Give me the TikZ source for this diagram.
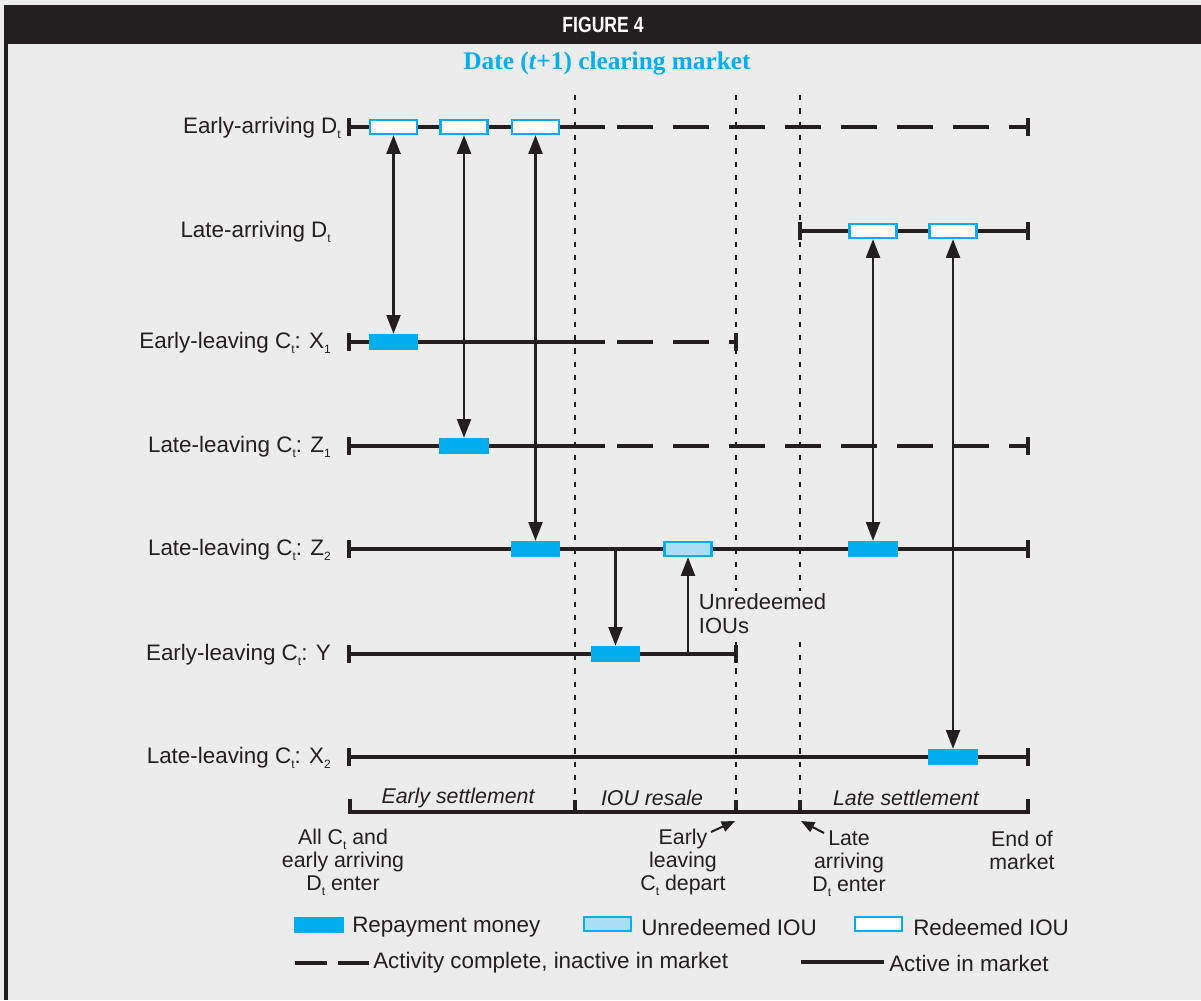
\documentclass[tikz,border=0pt]{standalone}
\usepackage{fontspec}
\setmainfont{Liberation Sans}
\newfontfamily\serifbf{Liberation Serif}
\usetikzlibrary{arrows.meta}
\definecolor{bg}{HTML}{ECECEC}
\definecolor{ink}{HTML}{231F20}
\definecolor{cy}{HTML}{00AEEF}
\definecolor{lcy}{HTML}{A9DEF7}
\newcommand\lsub[1]{\raisebox{-0.45ex}{\fontsize{9}{9}\selectfont #1}}
\begin{document}
\begin{tikzpicture}[x=0.75pt,y=-0.75pt,
  every node/.style={font=\fontsize{16}{19}\selectfont, text=ink, inner sep=0pt},
  lbl/.style={anchor=east, font=\fontsize{16.8}{20}\selectfont},
  money/.style={fill=cy, minimum width=37pt, minimum height=12pt},
  unred/.style={fill=lcy, draw=cy, line width=1.8pt, minimum width=35pt, minimum height=10.5pt},
  redm/.style={fill=white, draw=cy, line width=1.8pt, minimum width=35pt, minimum height=10.5pt},
  act/.style={draw=ink, line width=2.4pt},
  inact/.style={draw=ink, line width=2.4pt, dash pattern=on 27pt off 15pt},
  endtick/.style={draw=ink, line width=2.6pt},
  sep/.style={draw=ink, line width=1pt, dash pattern=on 4pt off 6pt},
  link/.style={draw=ink, line width=1.6pt, arrows={Triangle[length=14pt,width=10.5pt]-Triangle[length=14pt,width=10.5pt]}},
  onelink/.style={draw=ink, line width=1.6pt, arrows={-Triangle[length=14pt,width=10.5pt]}},
  pointer/.style={draw=ink, line width=1.5pt, arrows={-Triangle[length=10pt,width=8pt]}},
  lgtext/.style={anchor=west, font=\fontsize{16.8}{19}\selectfont},
  bottom/.style={align=center, font=\fontsize{16}{17.3}\selectfont}
]
\useasboundingbox (0,0) rectangle (1201,1000);
\fill[bg] (0,0) rectangle (1201,1000);
\fill[ink] (4,5) rectangle (1201,44);
\fill[ink] (4,44) rectangle (7.5,1000);
\node[text=white, font=\fontsize{15}{17}\selectfont\bfseries] (fig) at (603,25) {\scalebox{0.88}[1.1]{FIGURE 4}};
\node[text=cy, font=\fontsize{19}{22}\serifbf\bfseries] (sub) at (607,64) {Date (\textit{t}+1) clearing market};

% separators
\draw[sep] (575,95) -- (575,800);
\draw[sep] (736,95) -- (736,800);
\draw[sep] (800,95) -- (800,800);

% row labels
\node[lbl] (lA) at (341,128) {Early-arriving D\lsub{t}};
\node[lbl] (lB) at (331,232) {Late-arriving D\lsub{t}};
\node[lbl] (lX1) at (331,343) {Early-leaving C\lsub{t}: X\lsub{1}};
\node[lbl] (lZ1) at (331,447) {Late-leaving C\lsub{t}: Z\lsub{1}};
\node[lbl] (lZ2) at (331,550) {Late-leaving C\lsub{t}: Z\lsub{2}};
\node[lbl] (lY) at (331,655) {Early-leaving C\lsub{t}: Y};
\node[lbl] (lX2) at (331,758) {Late-leaving C\lsub{t}: X\lsub{2}};

% row lines
% A
\draw[act] (349,127) -- (605,127);
\draw[inact] (617,127) -- (1028,127);
\draw[endtick] (349,118) -- (349,136);
\draw[endtick] (1028,118) -- (1028,136);
% B
\draw[act] (800,231) -- (1028,231);
\draw[endtick] (800,222) -- (800,240);
\draw[endtick] (1028,222) -- (1028,240);
% X1
\draw[act] (349,342) -- (605,342);
\draw[inact] (617,342) -- (736,342);
\draw[endtick] (349,333) -- (349,351);
\draw[endtick] (736,333) -- (736,351);
% Z1
\draw[act] (349,446) -- (605,446);
\draw[inact] (617,446) -- (1028,446);
\draw[endtick] (349,437) -- (349,455);
\draw[endtick] (1028,437) -- (1028,455);
% Z2
\draw[act] (349,549) -- (1028,549);
\draw[endtick] (349,540) -- (349,558);
\draw[endtick] (1028,540) -- (1028,558);
% Y
\draw[act] (349,654) -- (736,654);
\draw[endtick] (349,645) -- (349,663);
\draw[endtick] (736,645) -- (736,663);
% X2
\draw[act] (349,757) -- (1028,757);
\draw[endtick] (349,748) -- (349,766);
\draw[endtick] (1028,748) -- (1028,766);

% boxes
\node[redm] (a1) at (393.5,127) {};
\node[redm] (a2) at (464,127) {};
\node[redm] (a3) at (535.5,127) {};
\node[redm] (b1) at (873,231) {};
\node[redm] (b2) at (953,231) {};
\node[money] (x1) at (393.5,342) {};
\node[money] (z1) at (464,446) {};
\node[money] (z2a) at (535.5,549) {};
\node[unred] (z2b) at (688,549) {};
\node[money] (z2c) at (873,549) {};
\node[money] (y1) at (615.5,654) {};
\node[money] (x2) at (953,757) {};

% connectors
\draw[link] (a1.south) -- (x1.north);
\draw[link] (a2.south) -- (z1.north);
\draw[link] (a3.south) -- (z2a.north);
\draw[link] (b1.south) -- (z2c.north);
\draw[link] (b2.south) -- (x2.north);
\coordinate (dstart) at (615.5,551);
\draw[onelink] (dstart) -- (y1.north);
\coordinate (ustart) at (688,653);
\draw[onelink] (ustart) -- (z2b.south);
\node[anchor=north west, align=left, fill=bg, inner sep=2pt, font=\fontsize{16.5}{18}\selectfont] (unr) at (696,591) {Unredeemed\\IOUs};

% timeline
\draw[act, line join=miter] (350,799) -- (350,812) -- (1028,812) -- (1028,799);
\draw[endtick] (575,800) -- (575,812);
\draw[endtick] (736,800) -- (736,812);
\draw[endtick] (800,800) -- (800,812);
\node[font=\fontsize{16}{19}\selectfont\itshape] (ph1) at (458,798) {Early settlement};
\node[font=\fontsize{16}{19}\selectfont\itshape] (ph2) at (652,798) {IOU resale};
\node[font=\fontsize{16}{19}\selectfont\itshape] (ph3) at (906,798) {Late settlement};

\node[bottom] (t1) at (343,862) {All C\lsub{t} and\\early arriving\\D\lsub{t} enter};
\node[bottom] (t2) at (683,862) {Early\\leaving\\C\lsub{t} depart};
\node[bottom] (t3) at (849,864) {Late\\arriving\\D\lsub{t} enter};
\node[bottom] (t4) at (1022,850) {End of\\market};
\coordinate (pE) at (735,821);
\coordinate (pL) at (801,821);
\coordinate (sE) at (711,832);
\coordinate (sL) at (824,833);
\draw[pointer] (sE) -- (pE);
\draw[pointer] (sL) -- (pL);

% legend
\node[money, minimum width=37.5pt, minimum height=12.5pt] (gM) at (319,925) {};
\node[lgtext] (gMt) at (352,927) {Repayment money};
\node[unred] (gU) at (607.5,924) {};
\node[lgtext] (gUt) at (641,927) {Unredeemed IOU};
\node[redm] (gR) at (878.5,924) {};
\node[lgtext] (gRt) at (913,927) {Redeemed IOU};
\coordinate (d1) at (295,963);
\coordinate (d2) at (327,963);
\coordinate (d3) at (338,963);
\coordinate (d4) at (369,963);
\draw[act] (d1) -- (d2);
\draw[act] (d3) -- (d4);
\node[lgtext] (gDt) at (373,963) {Activity complete, inactive in market};
\coordinate (s1) at (801,962);
\coordinate (s2) at (884,962);
\draw[act] (s1) -- (s2);
\node[lgtext] (gSt) at (889,963) {Active in market};
\end{tikzpicture}
\end{document}
